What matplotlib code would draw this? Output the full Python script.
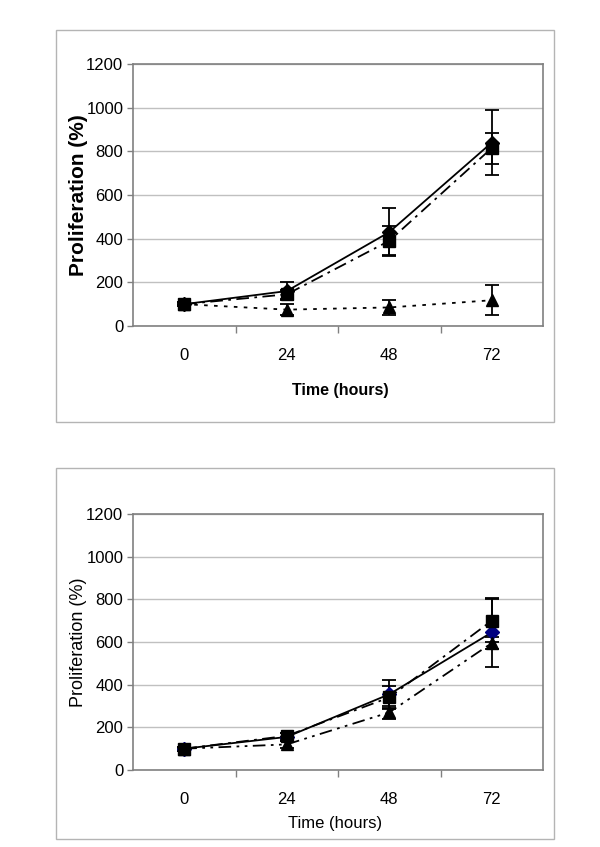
import numpy as np
import matplotlib
matplotlib.use('Agg')
import matplotlib.pyplot as plt
from matplotlib.patches import Rectangle

plt.rcParams['font.family'] = ['Liberation Sans Narrow', 'Liberation Sans', 'DejaVu Sans']

# data
times = ['0', '24', '48', '72']
yTicks = [0, 200, 400, 600, 800, 1000, 1200]

# top chart
topSolid = [100, 160, 430, 840]
topSolidErr = [10, 40, 110, 148]
topDashDot = [100, 145, 390, 815]
topDashDotErr = [10, 20, 67, 71]
topDotted = [100, 75, 85, 118]
topDottedErr = [5, 25, 35, 69]

# bottom chart
botSolid = [100, 155, 355, 645]
botSolidErr = [10, 20, 65, 160]
botDashDot = [100, 160, 340, 700]
botDashDotErr = [10, 15, 55, 100]
botDashDot2 = [100, 120, 270, 595]
botDashDot2Err = [5, 15, 30, 30]

W, H = 600, 847
fig = plt.figure(figsize=(W / 100, H / 100), dpi=100)
fig.patch.set_facecolor('white')


def px_axes(x0, y0, x1, y1):
    return fig.add_axes([x0 / W, 1 - y1 / H, (x1 - x0) / W, (y1 - y0) / H])


def frame(x0, y0, x1, y1):
    fig.patches.append(Rectangle((x0 / W, 1 - y1 / H), (x1 - x0) / W, (y1 - y0) / H,
                                 transform=fig.transFigure, fill=False,
                                 edgecolor='#b4b4b4', linewidth=1.0))


def style_axes(ax):
    ax.set_xlim(-0.5, 3.5)
    ax.set_ylim(0, 1200)
    ax.set_yticks(yTicks)
    ax.set_yticklabels([str(v) for v in yTicks], fontsize=12)
    ax.set_xticks([0.5, 1.5, 2.5], minor=False)
    ax.set_xticklabels([])
    ax.set_xticks(range(len(times)), minor=True)
    ax.set_xticklabels(times, minor=True, fontsize=12)
    ax.tick_params(axis='x', which='major', length=5, color='#808080', width=1)
    ax.tick_params(axis='x', which='minor', length=0, pad=16)
    ax.tick_params(axis='y', length=4, color='#808080', width=1, pad=3)
    for s in ax.spines.values():
        s.set_color('#808080')
        s.set_linewidth(1.2)
    ax.grid(axis='y', color='#c0c0c0', linewidth=1)
    ax.set_axisbelow(True)
    return np.arange(len(times))


def series(ax, x, y, err, ls, marker, color='black', ms=8.5):
    ax.errorbar(x, y, yerr=err, color='black', ecolor='black', linestyle=ls,
                linewidth=1.3, marker=marker, markersize=ms, markerfacecolor=color,
                markeredgecolor=color, capsize=5, capthick=1.3, elinewidth=1.3)


############################### TOP ###############################
frame(56, 30, 554, 422)
ax1 = px_axes(133, 64, 543, 326)
x = style_axes(ax1)
series(ax1, x, topSolid, topSolidErr, '-', 'D', ms=7)
series(ax1, x, topDotted, topDottedErr, (0, (2, 3.5)), '^')
series(ax1, x, topDashDot, topDashDotErr, (0, (7, 3, 1.5, 3)), 's')
fig.text(79 / W, 1 - 195 / H, 'Proliferation (%)', rotation=90, ha='center', va='center',
         fontsize=15, fontweight='bold')
fig.text(340 / W, 1 - 390 / H, 'Time (hours)', ha='center', va='center',
         fontsize=11.5, fontweight='bold')

############################### BOTTOM ###############################
frame(56, 468, 554, 839)
ax2 = px_axes(133, 514, 543, 770)
x = style_axes(ax2)
series(ax2, x, botSolid, botSolidErr, '-', 'D', color='#000080', ms=7)
series(ax2, x, botDashDot2, botDashDot2Err, (0, (7, 3, 1.5, 3, 1.5, 3)), '^')
series(ax2, x, botDashDot, botDashDotErr, (0, (7, 3, 1.5, 3)), 's')
fig.text(79 / W, 1 - 642 / H, 'Proliferation (%)', rotation=90, ha='center', va='center',
         fontsize=13)
fig.text(335 / W, 1 - 823 / H, 'Time (hours)', ha='center', va='center', fontsize=12)

fig.savefig('out.png', dpi=100, facecolor='white')
